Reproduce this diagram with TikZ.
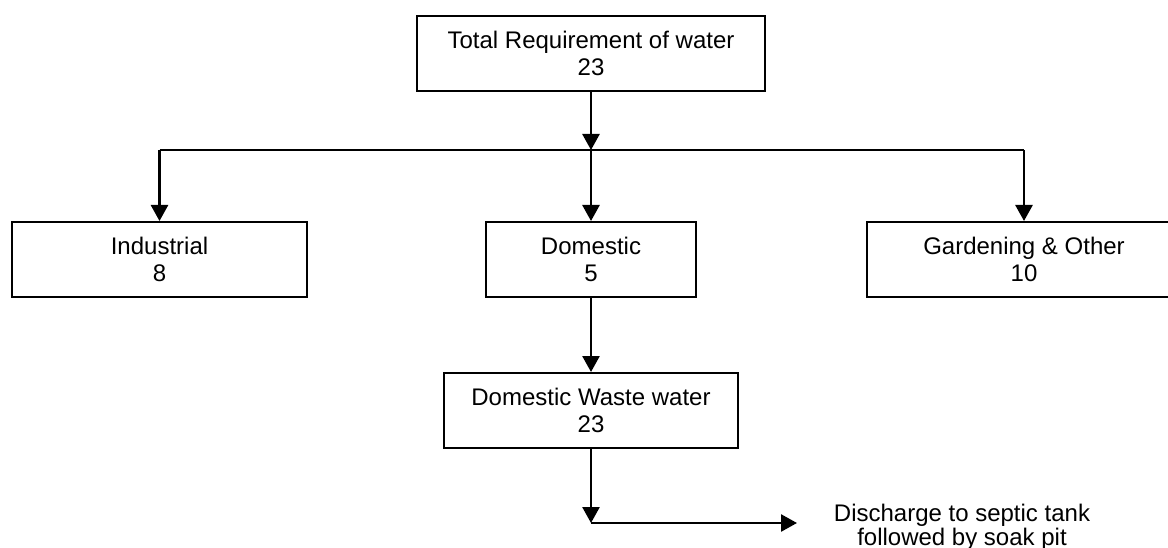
\documentclass[tikz,border=0pt]{standalone}
\usepackage{fontspec}
\setmainfont{Liberation Sans}
\usetikzlibrary{arrows.meta}
\tikzset{
  flowbox/.style={draw=black, line width=2pt, rectangle, align=center,
    minimum height=75pt, inner sep=0pt,
    font=\fontsize{24}{27}\selectfont},
  arr/.style={line width=2.6pt, -{Triangle[width=17pt,length=16pt]}},
  plain/.style={line width=2.4pt},
  lbl/.style={align=center, inner sep=0pt, font=\fontsize{24}{24}\selectfont}
}
\begin{document}
\begin{tikzpicture}[x=1pt,y=-1pt]
\clip (0,0) rectangle (1168,548);
\fill[white] (0,0) rectangle (1168,548);
\node[flowbox, minimum width=348pt] (top) at (591,53.5) {Total Requirement of water\\23};
\node[flowbox, minimum width=295pt] (ind) at (159.5,259.5) {Industrial\\8};
\node[flowbox, minimum width=210pt] (dom) at (591,259.5) {Domestic\\5};
\node[flowbox, minimum width=314pt] (gard) at (1024,259.5) {Gardening \& Other\\10};
\node[flowbox, minimum width=294pt] (waste) at (591,410.5) {Domestic Waste water\\23};
\node[lbl] (dis) at (962,527) {Discharge to septic tank\\followed by soak pit};
\coordinate (jl) at (159.5,150);
\coordinate (jc) at (591,150);
\coordinate (jr) at (1024,150);
\coordinate (bend) at (591,523);
\coordinate (dend) at (797,523);
\draw[arr] (top.south) -- (jc);
\draw[plain] (jl) -- (jr);
\draw[arr] (jl) -- (ind.north);
\draw[arr] (jc) -- (dom.north);
\draw[arr] (jr) -- (gard.north);
\draw[arr] (dom.south) -- (waste.north);
\draw[arr] (waste.south) -- (bend);
\draw[arr] (bend) -- (dend);
\end{tikzpicture}
\end{document}
